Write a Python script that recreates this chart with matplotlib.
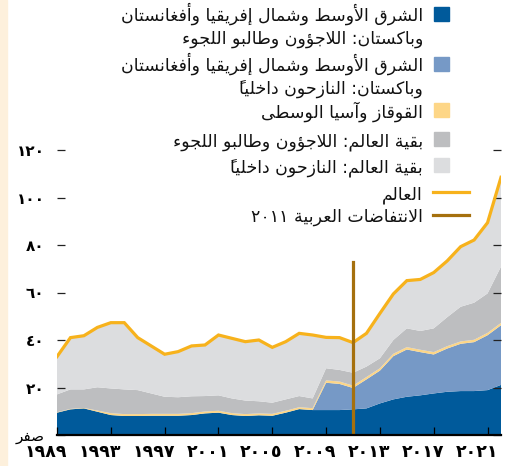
import matplotlib
matplotlib.use('Agg')
import matplotlib.pyplot as plt
from matplotlib.patches import Rectangle
from matplotlib.lines import Line2D
from matplotlib.transforms import ScaledTranslation

years = list(range(1989, 2023))

# millions of people
mena_refugees = [9.4, 10.8, 11.2, 9.8, 8.4, 8.0, 8.0, 8.1, 8.1, 8.1,
                 8.4, 9.1, 9.4, 8.4, 8.0, 8.3, 8.1, 9.4, 10.9, 10.5,
                 10.5, 10.5, 10.8, 11.2, 13.3, 15.0, 16.1, 16.7, 17.5, 18.2,
                 18.5, 18.5, 18.9, 21.1]
mena_idps = [0, 0, 0, 0, 0, 0, 0, 0, 0, 0,
             0, 0, 0, 0, 0, 0, 0, 0, 0, 0,
             11.5, 11.0, 9.0, 12.2, 13.8, 18.2, 19.9, 18.2, 16.4, 18.2,
             19.9, 20.6, 23.1, 25.1]
caucasus = [0.2, 0.2, 0.2, 0.5, 0.8, 0.8, 0.8, 0.8, 0.8, 0.8,
            0.8, 0.8, 0.8, 0.8, 0.8, 0.8, 0.8, 0.8, 0.8, 0.8,
            1.0, 1.0, 1.0, 1.0, 1.0, 1.0, 1.0, 1.0, 1.0, 1.0,
            1.0, 1.0, 1.0, 1.0]
row_refugees = [7.5, 8.2, 7.8, 9.8, 10.4, 10.4, 10.1, 8.6, 7.2, 7.0,
                7.1, 6.5, 6.5, 6.2, 5.7, 5.1, 4.7, 4.8, 4.7, 4.1,
                5.1, 4.9, 5.4, 4.4, 4.2, 5.8, 7.9, 7.9, 10.0, 12.2,
                14.6, 15.6, 16.6, 23.7]
row_idps = [15.9, 21.8, 22.6, 25.2, 27.7, 28.1, 22.1, 20.0, 17.9, 19.2,
            21.2, 21.5, 25.4, 25.3, 24.8, 25.8, 23.3, 24.3, 26.4, 26.7,
            13.0, 13.6, 12.7, 14.0, 18.9, 19.4, 20.1, 21.7, 23.5, 23.7,
            25.3, 26.4, 29.8, 37.6]

arab_spring_year = 2011
arab_spring_top = 73

x_ticks = [1989, 1993, 1997, 2001, 2005, 2009, 2013, 2017, 2021]
y_ticks = [0, 20, 40, 60, 80, 100, 120]
zero_label = "صفر"

legend_labels = [
    "الشرق الأوسط وشمال إفريقيا وأفغانستان\nوباكستان: اللاجؤون وطالبو اللجوء",
    "الشرق الأوسط وشمال إفريقيا وأفغانستان\nوباكستان: النازحون داخلياً",
    "القوقاز وآسيا الوسطى",
    "بقية العالم: اللاجؤون وطالبو اللجوء",
    "بقية العالم: النازحون داخلياً",
    "العالم",
    "الانتفاضات العربية ٢٠١١",
]

colors = ['#005a9b', '#7699c6', '#fdd687', '#bdbec0', '#dcdddf']
world_color = '#f7b21c'
spring_color = '#a5700e'

# --- minimal arabic shaping (matplotlib has no bidi / joining) ---
DUAL = {'ئ': 0xFE89, 'ب': 0xFE8F, 'ت': 0xFE95, 'ث': 0xFE99, 'ج': 0xFE9D,
        'ح': 0xFEA1, 'خ': 0xFEA5, 'س': 0xFEB1, 'ش': 0xFEB5, 'ص': 0xFEB9,
        'ض': 0xFEBD, 'ط': 0xFEC1, 'ظ': 0xFEC5, 'ع': 0xFEC9, 'غ': 0xFECD,
        'ف': 0xFED1, 'ق': 0xFED5, 'ك': 0xFED9, 'ل': 0xFEDD, 'م': 0xFEE1,
        'ن': 0xFEE5, 'ه': 0xFEE9, 'ي': 0xFEF1}
RIGHT = {'آ': 0xFE81, 'أ': 0xFE83, 'ؤ': 0xFE85, 'إ': 0xFE87, 'ا': 0xFE8D,
         'ة': 0xFE93, 'د': 0xFEA9, 'ذ': 0xFEAB, 'ر': 0xFEAD, 'ز': 0xFEAF,
         'و': 0xFEED, 'ى': 0xFEEF}
LAMALEF = {'آ': 0xFEF5, 'أ': 0xFEF7, 'إ': 0xFEF9, 'ا': 0xFEFB}
MARKS = '\u064b\u064c\u064d\u064e\u064f\u0650\u0651\u0652'
DIGITS = '0123456789٠١٢٣٤٥٦٧٨٩'


def jtype(c):
    if isinstance(c, tuple) or c in RIGHT:
        return 'R'
    if c in DUAL:
        return 'D'
    if c == 'ء':
        return 'U'
    return None


def shape_line(s):
    units = []
    i = 0
    while i < len(s):
        c = s[i]
        if c in MARKS and units:
            units[-1][1] += c
        elif c == 'ل' and i + 1 < len(s) and s[i + 1] in LAMALEF:
            units.append([('LA', s[i + 1]), ''])
            i += 1
        else:
            units.append([c, ''])
        i += 1
    out = []
    for k, (c, marks) in enumerate(units):
        jt = jtype(c)
        if jt is None:
            out.append(c + marks)
            continue
        jp = k > 0 and jtype(units[k - 1][0]) == 'D'
        jn = jt == 'D' and k + 1 < len(units) and jtype(units[k + 1][0]) in ('D', 'R')
        if isinstance(c, tuple):
            code = LAMALEF[c[1]] + int(jp)
        elif jt == 'U':
            code = 0xFE80
        elif jt == 'R':
            code = RIGHT[c] + int(jp)
        else:
            code = DUAL[c] + {(False, False): 0, (True, False): 1,
                              (False, True): 2, (True, True): 3}[(jp, jn)]
        # mark first: it is drawn from the pen position over the next glyph
        out.append(marks + chr(code))
    # visual order: reverse, but keep digit runs left-to-right
    runs = []
    for cl in out:
        isnum = cl[0] in DIGITS
        if runs and isnum and runs[-1][0]:
            runs[-1][1].append(cl)
        else:
            runs.append((isnum, [cl]))
    return ''.join(''.join(r[1]) for r in reversed(runs))


def ar(text):
    return '\n'.join(shape_line(l) for l in text.split('\n'))


def ar_digits(n):
    return str(n).translate(str.maketrans('0123456789', '٠١٢٣٤٥٦٧٨٩'))


plt.rcParams['font.family'] = ['DejaVu Sans']

W, H = 506, 466
fig = plt.figure(figsize=(W / 100, H / 100), dpi=100)
fig.patch.set_facecolor('white')
fig.patches.append(Rectangle((0, 0), 7 / W, 1, transform=fig.transFigure,
                             color='#fdf0dc', zorder=0))

ax = fig.add_axes([57 / W, 31 / H, 444 / W, 285 / H])
ax.set_facecolor('none')

ax.stackplot(years, mena_refugees, mena_idps, caucasus, row_refugees, row_idps,
             colors=colors, linewidth=0)
world = [a + b + c + d + e for a, b, c, d, e in
         zip(mena_refugees, mena_idps, caucasus, row_refugees, row_idps)]
ax.plot(years, world, color=world_color, lw=2.3, solid_joinstyle='miter', zorder=3)
ax.plot([arab_spring_year, arab_spring_year], [0, arab_spring_top],
        color=spring_color, lw=2.3, zorder=4)

ax.set_xlim(1989, 2022)
ax.set_ylim(0, 120)
for s in ['left', 'right', 'top']:
    ax.spines[s].set_visible(False)
ax.spines['bottom'].set_linewidth(1.6)
ax.spines['bottom'].set_color('black')
ax.spines['bottom'].set_zorder(5)

ax.set_xticks(x_ticks)
ax.set_xticklabels([ar_digits(y) for y in x_ticks], ha='left', fontweight='bold')
ax.tick_params(axis='x', direction='in', length=6, width=0.9, color='black',
               pad=5.5, labelsize=12.5)
for lbl in ax.get_xticklabels():
    lbl.set_transform(lbl.get_transform() + ScaledTranslation(-0.32, 0, fig.dpi_scale_trans))

ax.set_yticks(y_ticks)
ax.set_yticklabels([ar(zero_label)] + [ar_digits(v) for v in y_ticks[1:]])
ax.tick_params(axis='y', direction='in', length=6, width=0.9, color='#222222',
               pad=9, labelsize=11, right=True)
for lbl in ax.get_yticklabels()[1:]:
    lbl.set_fontweight('bold')

# legend, drawn by hand (right-to-left: swatch on the right)
text_x = 423 / W
rows = [14, 64, 110.5, 139, 165, 192, 215]
for i, lab in enumerate(legend_labels):
    cy = rows[i]
    if i < 5:
        fig.patches.append(Rectangle((434 / W, 1 - (cy + 7) / H), 15 / W, 14 / H,
                                     transform=fig.transFigure, color=colors[i]))
    else:
        c = world_color if i == 5 else spring_color
        fig.lines.append(Line2D([433 / W, 469 / W], [1 - cy / H] * 2,
                                transform=fig.transFigure, color=c, lw=2.3))
    for j, line in enumerate(lab.split('\n')):
        fig.text(text_x, 1 - (cy + 7 + j * 22.5) / H, ar(line), ha='right',
                 va='baseline', fontsize=12.5, color='#111111')

fig.savefig('out.png', dpi=100)
